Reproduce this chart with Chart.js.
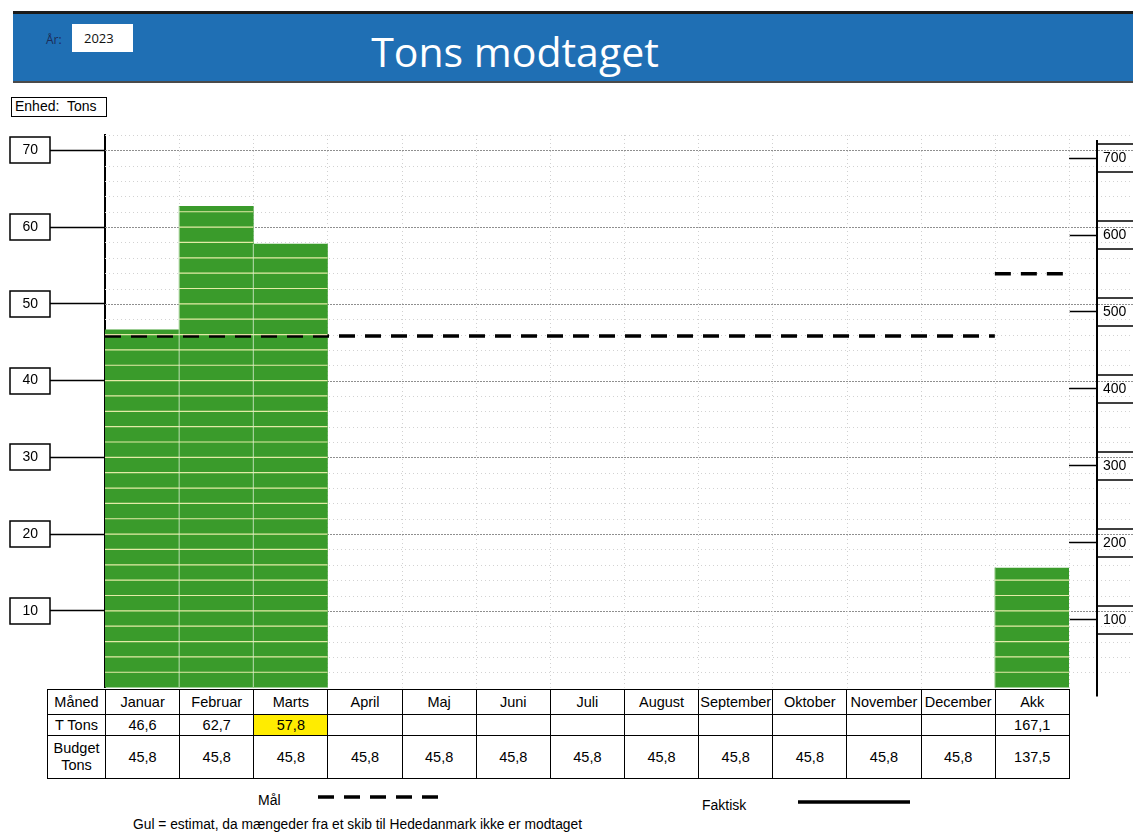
<!DOCTYPE html>
<html><head><meta charset="utf-8">
<script src="https://cdn.jsdelivr.net/npm/chart.js@4.4.0/dist/chart.umd.min.js"></script>
<style>
html,body{margin:0;padding:0;background:#fff;width:1133px;height:836px;overflow:hidden;font-family:"Liberation Sans",Arial,sans-serif;color:#000;}
#banner{position:absolute;left:13px;top:11px;width:1130px;height:67px;background:#1f6fb4;border-top:3px solid #1b1b1b;border-bottom:2px solid #4a4a4a;}
#title{position:absolute;left:0;width:1030px;top:25px;text-align:center;font-family:"Open Sans",sans-serif;font-size:41px;line-height:52px;color:#fff;}
#arlbl{position:absolute;left:46px;top:31px;font-family:"Open Sans",sans-serif;font-size:12px;color:#1c2c58;}
#yearbox{position:absolute;left:72px;top:24px;width:61px;height:28px;background:#fff;font-family:"Open Sans",sans-serif;font-size:13px;line-height:28px;box-sizing:border-box;padding-left:12px;color:#111;}
#enhed{position:absolute;left:11px;top:97px;width:96px;height:20px;box-sizing:border-box;border:1.5px solid #000;font-size:14px;line-height:17px;padding-left:3px;white-space:nowrap;}
#wrap{position:absolute;left:0;top:0;width:1133px;height:708px;}
table{position:absolute;left:47px;top:689px;border-collapse:collapse;table-layout:fixed;width:1022px;font-size:14.5px;background:#fff;}
td{border:1.5px solid #000;text-align:center;padding:0;white-space:nowrap;overflow:hidden;}
tr.h td{height:24px;}
tr.t td{height:20px;}
tr.b td{height:42px;}
td.y{background:#ffec00;}
.lg{position:absolute;font-size:14px;}
#foot{position:absolute;left:133px;top:817px;font-size:13.8px;white-space:nowrap;}
</style></head>
<body>
<div id="banner"></div>
<div id="title">Tons modtaget</div>
<div id="arlbl">År:</div>
<div id="yearbox">2023</div>
<div id="enhed">Enhed:&nbsp; Tons</div>
<div id="wrap"><canvas id="c" width="1133" height="708"></canvas></div>
<table id="tbl"></table>
<div class="lg" style="left:258px;top:792px;">Mål</div>
<svg style="position:absolute;left:316px;top:791px" width="126" height="12"><line x1="2" y1="6" x2="124" y2="6" stroke="#000" stroke-width="3.5" stroke-dasharray="16 10"/></svg>
<div class="lg" style="left:702px;top:797px;">Faktisk</div>
<svg style="position:absolute;left:796px;top:796px" width="118" height="12"><line x1="2" y1="6" x2="114" y2="6" stroke="#000" stroke-width="3.5"/></svg>
<div id="foot">Gul = estimat, da mængeder fra et skib til Hededanmark ikke er modtaget</div>
<script>
const months = ['Januar','Februar','Marts','April','Maj','Juni','Juli','August','September','Oktober','November','December'];
const akkLabel = 'Akk';
const tTons = [46.6, 62.7, 57.8, null, null, null, null, null, null, null, null, null];
const estimated = [false, false, true, false, false, false, false, false, false, false, false, false];
const budgetTons = [45.8, 45.8, 45.8, 45.8, 45.8, 45.8, 45.8, 45.8, 45.8, 45.8, 45.8, 45.8];
const akkTons = 167.1;
const akkBudget = 137.5;
const akkGoal = 549.6;
const leftTicks = [10, 20, 30, 40, 50, 60, 70];
const rightTicks = [100, 200, 300, 400, 500, 600, 700];

const fmt = v => v == null ? '' : v.toFixed(1).replace('.', ',');

// table
const tbl = document.getElementById('tbl');
let html = '<colgroup><col style="width:58px">' + months.map(() => '<col style="width:74.15px">').join('') + '<col style="width:74.15px"></colgroup>';
html += '<tr class="h"><td>Måned</td>' + months.map(m => '<td>' + m + '</td>').join('') + '<td>' + akkLabel + '</td></tr>';
html += '<tr class="t"><td>T Tons</td>' + tTons.map((v, i) => '<td' + (estimated[i] ? ' class="y"' : '') + '>' + fmt(v) + '</td>').join('') + '<td>' + fmt(akkTons) + '</td></tr>';
html += '<tr class="b"><td style="line-height:17px">Budget<br>Tons</td>' + budgetTons.map(v => '<td>' + fmt(v) + '</td>').join('') + '<td>' + fmt(akkBudget) + '</td></tr>';
tbl.innerHTML = html;

const GREEN = '#3a9b2b';
const FONT = '"Liberation Sans", Arial, sans-serif';

const sheetPlugin = {
  id: 'sheet',
  beforeDatasetsDraw(chart) {
    const ctx = chart.ctx, ya = chart.scales.y, xl = chart.scales.xl, a = chart.chartArea;
    ctx.save();
    for (let v = 2; v <= 72; v += 2) {
      const y = Math.round(ya.getPixelForValue(v)) + 0.5;
      ctx.beginPath();
      ctx.strokeStyle = v % 10 === 0 ? '#8f8f8f' : '#d2d2d2';
      ctx.setLineDash(v % 10 === 0 ? [2, 1] : [1, 3]);
      ctx.lineWidth = 1;
      ctx.moveTo(a.left, y); ctx.lineTo(chart.width, y);
      ctx.stroke();
    }
    for (let i = 1; i <= 13; i++) {
      const x = Math.round(xl.getPixelForValue(i)) + 0.5;
      ctx.beginPath();
      ctx.strokeStyle = '#d0d0d0';
      ctx.setLineDash([1, 3]);
      ctx.moveTo(x, a.top); ctx.lineTo(x, a.bottom);
      ctx.stroke();
    }
    ctx.restore();
  },
  afterDatasetsDraw(chart) {
    const ctx = chart.ctx, ya = chart.scales.y, a = chart.chartArea;
    ctx.save();
    [0, 1].forEach(di => {
      chart.getDatasetMeta(di).data.forEach(el => {
        if (el.skip || isNaN(el.y)) return;
        const l = el.x - el.width / 2, r = el.x + el.width / 2;
        const top = el.y, bot = Math.min(el.base, a.bottom);
        ctx.strokeStyle = 'rgba(246,244,180,0.9)';
        ctx.lineWidth = 1.2;
        ctx.setLineDash([]);
        for (let v = 2; v <= 72; v += 2) {
          const y = ya.getPixelForValue(v);
          if (y > top + 3 && y < bot - 1) {
            ctx.beginPath(); ctx.moveTo(l, y); ctx.lineTo(r, y); ctx.stroke();
          }
        }
        ctx.strokeStyle = 'rgba(235,245,225,0.75)';
        ctx.lineWidth = 1;
        if (l > a.left + 2) {
          ctx.beginPath(); ctx.moveTo(l, top); ctx.lineTo(l, bot); ctx.stroke();
        }
      });
    });
    ctx.restore();
  },
  afterDraw(chart) {
    const ctx = chart.ctx, ya = chart.scales.y, yr = chart.scales.yR, a = chart.chartArea;
    ctx.save();
    ctx.strokeStyle = '#000';
    ctx.lineWidth = 1.5;
    ya.ticks.forEach(t => {
      const y = ya.getPixelForValue(t.value);
      ctx.strokeRect(ya.right - 55 - 40, Math.round(y) - 13, 40, 26);
    });
    yr.ticks.forEach(t => {
      const y = yr.getPixelForValue(t.value);
      ctx.strokeRect(yr.left + 28, Math.round(y) - 14, 60, 28);
    });
    ctx.lineWidth = 2;
    ctx.beginPath();
    ctx.moveTo(yr.left + 28, a.top + 5);
    ctx.lineTo(yr.left + 28, a.bottom + 9);
    ctx.stroke();
    ctx.restore();
  }
};

new Chart(document.getElementById('c'), {
  data: {
    labels: [...months, akkLabel],
    datasets: [
      {
        type: 'bar', label: 'T Tons',
        data: [...tTons, null],
        xAxisID: 'x', yAxisID: 'y',
        backgroundColor: GREEN, borderWidth: 0,
        grouped: false, barPercentage: 1, categoryPercentage: 1, order: 2
      },
      {
        type: 'bar', label: akkLabel,
        data: [...tTons.map(() => null), akkTons],
        xAxisID: 'x', yAxisID: 'yR',
        backgroundColor: GREEN, borderWidth: 0,
        grouped: false, barPercentage: 1, categoryPercentage: 1, order: 2
      },
      {
        type: 'line', label: 'Mål',
        data: budgetTons.flatMap((v, i) => [{x: i, y: v}, {x: i + 1, y: v}]),
        xAxisID: 'xl', yAxisID: 'y',
        borderColor: '#000', borderWidth: 3.5, borderDash: [16, 10],
        pointRadius: 0, fill: false, tension: 0, order: 1
      },
      {
        type: 'line', label: 'Mål Akk',
        data: [{x: 12, y: akkGoal}, {x: 13, y: akkGoal}],
        xAxisID: 'xl', yAxisID: 'yR',
        borderColor: '#000', borderWidth: 3.5, borderDash: [16, 10],
        pointRadius: 0, fill: false, tension: 0, order: 1
      }
    ]
  },
  options: {
    responsive: false,
    animation: false,
    layout: {padding: {top: 135, bottom: 4, left: 0, right: 0}},
    plugins: {legend: {display: false}, tooltip: {enabled: false}, title: {display: false}},
    scales: {
      x: {type: 'category', display: false, offset: true},
      xl: {type: 'linear', display: false, min: 0, max: 13},
      y: {
        position: 'left', min: 0, max: 72,
        afterBuildTicks: s => { s.ticks = leftTicks.map(v => ({value: v})); },
        afterFit: s => { s.width = 105; },
        grid: {drawOnChartArea: false, tickLength: 55, tickColor: '#000', tickWidth: 1.5},
        border: {color: '#000', width: 2},
        ticks: {padding: 12, crossAlign: 'center', color: '#000', font: {size: 14, family: FONT}}
      },
      yR: {
        position: 'right', min: 11.7, max: 730,
        afterBuildTicks: s => { s.ticks = rightTicks.map(v => ({value: v})); },
        afterFit: s => { s.width = 64; },
        grid: {drawOnChartArea: false, tickLength: 28, tickColor: '#000', tickWidth: 1.5},
        border: {display: false},
        ticks: {padding: 6, crossAlign: 'center', color: '#000', font: {size: 14, family: FONT}}
      }
    }
  },
  plugins: [sheetPlugin]
});
</script>
</body></html>
